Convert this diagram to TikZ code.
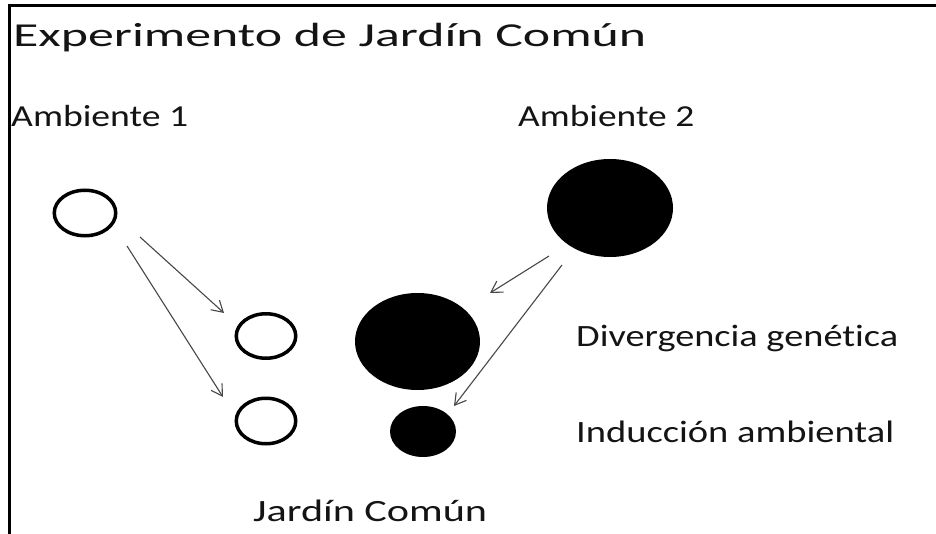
\documentclass[tikz,border=0pt]{standalone}
\usepackage{fontspec}
\setmainfont{Carlito}[Ligatures={NoCommon}]
\usepackage{graphicx}
\usetikzlibrary{shapes.geometric,arrows.meta}
\newcommand\fittext[3]{\resizebox{#1pt}{\height}{\fontsize{#2}{#2}\selectfont #3}}
\begin{document}
\begin{tikzpicture}[x=1pt,y=-1pt,
  ring/.style={ellipse, draw=black, line width=3.5pt, inner sep=0pt},
  blob/.style={ellipse, fill=black, inner sep=0pt},
  arr/.style={-{Straight Barb[length=11pt,width=13pt]}, line width=1.1pt, draw=black!72},
  lbl/.style={anchor=base west, inner sep=0pt, text=black!92},
  frame/.style={line width=2.8pt, draw=black}]
\useasboundingbox (0,0) rectangle (936,534);
\fill[white] (0,0) rectangle (936,534);
% frame
\coordinate (ftl) at (9.6,5.6);
\coordinate (ftr) at (936,5.6);
\coordinate (fbl) at (9.6,534);
\draw[frame] (ftr) -- (ftl) -- (fbl);
% texts
\node[lbl] (title) at (13,47) {\fittext{633}{33.5}{Experimento de Jardín Común}};
\node[lbl] (amb1) at (11,127) {\fittext{177}{30.5}{Ambiente 1}};
\node[lbl] (amb2) at (518,127) {\fittext{176}{30.5}{Ambiente 2}};
\node[lbl] (div) at (576,346) {\fittext{322}{31}{Divergencia genética}};
\node[lbl] (ind) at (576,442) {\fittext{318}{31}{Inducción ambiental}};
\node[lbl] (jc) at (253,521) {\fittext{234}{31}{Jardín Común}};
% populations
\node[ring, minimum width=61.5pt, minimum height=45.5pt] (a1) at (85,213) {};
\node[ring, minimum width=59.5pt, minimum height=44.5pt] (c1) at (266,336) {};
\node[ring, minimum width=59.5pt, minimum height=45.5pt] (c2) at (266,421) {};
\node[blob, minimum width=126pt, minimum height=98pt] (a2) at (610,208) {};
\node[blob, minimum width=125pt, minimum height=97pt] (d1) at (417.5,341.5) {};
\node[blob, minimum width=66pt, minimum height=51pt] (d2) at (423,431.5) {};
% arrow ends
\coordinate (s1) at (140,237); \coordinate (t1) at (224,313);
\coordinate (s2) at (127,246); \coordinate (t2) at (223,397);
\coordinate (s3) at (549,256); \coordinate (t3) at (490,293);
\coordinate (s4) at (562,265); \coordinate (t4) at (454,406);
\draw[arr] (s1) -- (t1);
\draw[arr] (s2) -- (t2);
\draw[arr] (s3) -- (t3);
\draw[arr] (s4) -- (t4);
\end{tikzpicture}
\end{document}
